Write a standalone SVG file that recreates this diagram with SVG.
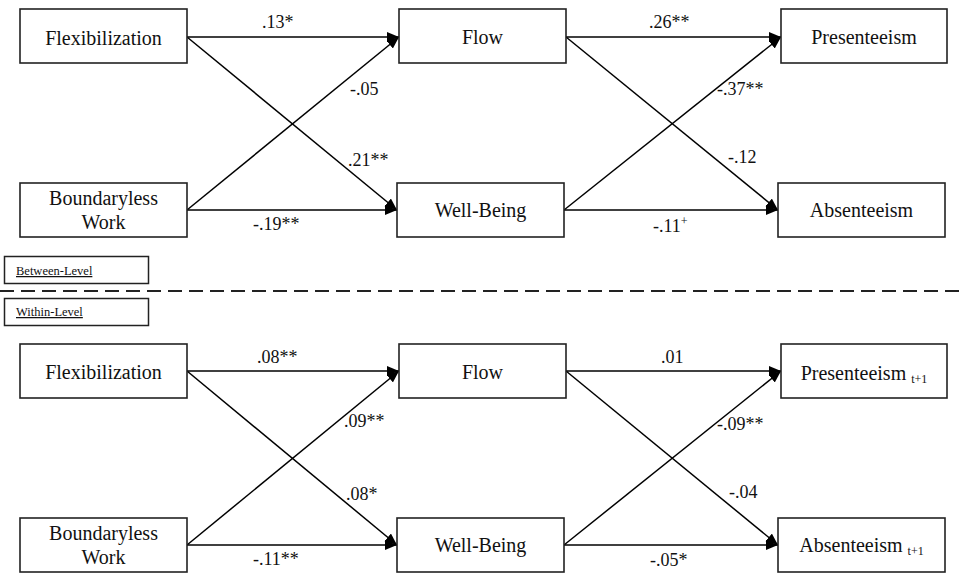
<svg xmlns="http://www.w3.org/2000/svg" width="961" height="574" viewBox="0 0 961 574" font-family="'Liberation Serif', 'Times New Roman', 'DejaVu Serif', serif">
<defs>
<marker id="ah" markerUnits="userSpaceOnUse" markerWidth="13" markerHeight="11" refX="12" refY="5" orient="auto">
<path d="M0,0 L12,5 L0,10 z" fill="#000"/>
</marker>
<style>
text{font-family:'Liberation Serif','Times New Roman','DejaVu Serif',serif}
.box{fill:#fff;stroke:#222;stroke-width:1.6}
.nt{font-size:20px;fill:#111;text-anchor:middle}
.lb{font-size:18px;fill:#111}
.sub{font-size:12px}
.edge{stroke:#000;stroke-width:1.5;fill:none;marker-end:url(#ah)}
.lvl{font-size:12.5px;fill:#111;text-decoration:underline}
</style>
</defs>
<rect width="961" height="574" fill="#fff"/>

<g id="connectors">
<line class="edge" x1="187" y1="37" x2="399" y2="37"/>
<line class="edge" x1="187" y1="37" x2="397" y2="210"/>
<line class="edge" x1="187" y1="210" x2="399" y2="37"/>
<line class="edge" x1="187" y1="210" x2="397" y2="210"/>
<line class="edge" x1="566" y1="37" x2="781" y2="37"/>
<line class="edge" x1="566" y1="37" x2="778" y2="210"/>
<line class="edge" x1="564" y1="210" x2="781" y2="37"/>
<line class="edge" x1="564" y1="210" x2="778" y2="210"/>

<line class="edge" x1="187" y1="371" x2="399" y2="371"/>
<line class="edge" x1="187" y1="371" x2="397" y2="545"/>
<line class="edge" x1="187" y1="545" x2="399" y2="371"/>
<line class="edge" x1="187" y1="545" x2="397" y2="545"/>
<line class="edge" x1="566" y1="371" x2="781" y2="371"/>
<line class="edge" x1="566" y1="371" x2="778" y2="545"/>
<line class="edge" x1="564" y1="545" x2="781" y2="371"/>
<line class="edge" x1="564" y1="545" x2="778" y2="545"/>
</g>

<g id="edge-labels">
<text class="lb" x="262" y="28">.13*</text>
<text class="lb" x="350" y="95">-.05</text>
<text class="lb" x="348" y="166">.21**</text>
<text class="lb" x="253" y="230">-.19**</text>
<text class="lb" x="649" y="28">.26**</text>
<text class="lb" x="717" y="95">-.37**</text>
<text class="lb" x="728" y="163">-.12</text>
<text class="lb" x="653" y="232">-.11<tspan dy="-7" font-size="12">+</tspan></text>

<text class="lb" x="257" y="363">.08**</text>
<text class="lb" x="344" y="427">.09**</text>
<text class="lb" x="346" y="500">.08*</text>
<text class="lb" x="253" y="565">-.11**</text>
<text class="lb" x="661" y="363">.01</text>
<text class="lb" x="717" y="430">-.09**</text>
<text class="lb" x="729" y="498">-.04</text>
<text class="lb" x="650" y="566">-.05*</text>
</g>

<g id="between-level">
<rect x="4.5" y="256.5" width="144" height="27" fill="#fff" stroke="#222" stroke-width="1.5"/>
<text class="lvl" x="16" y="275">Between-Level</text>
</g>
<g id="divider">
<line x1="0" y1="291" x2="961" y2="291" stroke="#222" stroke-width="2" stroke-dasharray="14 7"/>
</g>
<g id="within-level">
<rect x="4.5" y="298.5" width="144" height="27" fill="#fff" stroke="#222" stroke-width="1.5"/>
<text class="lvl" x="16" y="316">Within-Level</text>
</g>

<g id="flex-b">
<rect class="box" x="20" y="9" width="167" height="54"/>
<text class="nt" x="103.5" y="45">Flexibilization</text>
</g>
<g id="boundary-b">
<rect class="box" x="20" y="183" width="167" height="54"/>
<text class="nt" x="103.5" y="205">Boundaryless</text>
<text class="nt" x="103.5" y="229">Work</text>
</g>
<g id="flow-b">
<rect class="box" x="399" y="9" width="167" height="54"/>
<text class="nt" x="482.5" y="44">Flow</text>
</g>
<g id="wellbeing-b">
<rect class="box" x="397" y="183" width="167" height="54"/>
<text class="nt" x="480.5" y="217">Well-Being</text>
</g>
<g id="presenteeism-b">
<rect class="box" x="781" y="9" width="166" height="54"/>
<text class="nt" x="864" y="44">Presenteeism</text>
</g>
<g id="absenteeism-b">
<rect class="box" x="778" y="183" width="167" height="54"/>
<text class="nt" x="861.5" y="217">Absenteeism</text>
</g>

<g id="flex-w">
<rect class="box" x="20" y="344" width="167" height="54"/>
<text class="nt" x="103.5" y="379">Flexibilization</text>
</g>
<g id="boundary-w">
<rect class="box" x="20" y="518" width="167" height="54"/>
<text class="nt" x="103.5" y="540">Boundaryless</text>
<text class="nt" x="103.5" y="564">Work</text>
</g>
<g id="flow-w">
<rect class="box" x="399" y="344" width="167" height="54"/>
<text class="nt" x="482.5" y="379">Flow</text>
</g>
<g id="wellbeing-w">
<rect class="box" x="397" y="518" width="167" height="54"/>
<text class="nt" x="480.5" y="552">Well-Being</text>
</g>
<g id="presenteeism-w">
<rect class="box" x="781" y="344" width="166" height="54"/>
<text class="nt" x="864" y="380">Presenteeism <tspan class="sub" dy="3">t+1</tspan></text>
</g>
<g id="absenteeism-w">
<rect class="box" x="778" y="518" width="167" height="54"/>
<text class="nt" x="861.5" y="552">Absenteeism <tspan class="sub" dy="3">t+1</tspan></text>
</g>
</svg>
